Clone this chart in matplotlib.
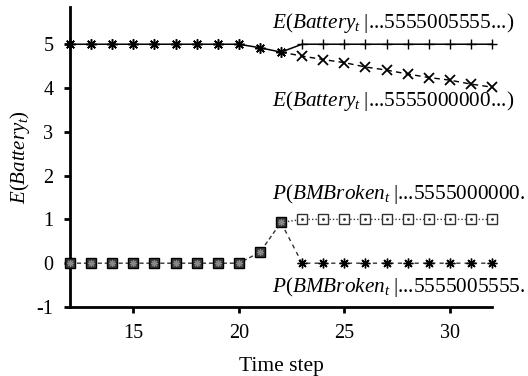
import matplotlib
matplotlib.use("Agg")
import matplotlib.pyplot as plt

plt.rcParams['font.family'] = ['Liberation Serif', 'DejaVu Serif']
plt.rcParams['mathtext.fontset'] = 'custom'
plt.rcParams['mathtext.it'] = 'Liberation Serif:italic'
plt.rcParams['mathtext.rm'] = 'Liberation Serif'

# ---- data ----
time_shared = [12, 13, 14, 15, 16, 17, 18, 19, 20, 21, 22]
time_after = [23, 24, 25, 26, 27, 28, 29, 30, 31, 32]
batt_shared = [5, 5, 5, 5, 5, 5, 5, 5, 5, 4.92, 4.82]
batt_5555005555 = [5, 5, 5, 5, 5, 5, 5, 5, 5, 5]
batt_5555000000 = [4.73, 4.65, 4.58, 4.48, 4.41, 4.32, 4.24, 4.18, 4.09, 4.02]
pbroken_shared = [0, 0, 0, 0, 0, 0, 0, 0, 0, 0.25, 0.93]
pbroken_5555000000 = [1, 1, 1, 1, 1, 1, 1, 1, 1, 1]
pbroken_5555005555 = [0, 0, 0, 0, 0, 0, 0, 0, 0, 0]
x_ticks = [15, 20, 25, 30]
y_ticks = [-1, 0, 1, 2, 3, 4, 5]

label_e1 = r'$E(Battery_t\;$|...5555005555...)'
label_e2 = r'$E(Battery_t\;$|...5555000000...)'
label_p1 = r'$P(BMBroken_t\;$|...5555000000.'
label_p2 = r'$P(BMBroken_t\;$|...5555005555.'

fig = plt.figure(figsize=(5.28, 3.76), dpi=100)
ax = fig.add_axes([70/528, (376-307)/376, (492-70)/528, (307-7)/376])

star = (8, 2, 0)
after_idx = list(range(1, 11))

# Battery shared part
ax.plot(time_shared, batt_shared, color='black', lw=1.1, ls='-',
        marker=star, ms=7.5, mew=1.1, mec='black', clip_on=False, zorder=3)
# continuations
ax.plot([time_shared[-1]] + time_after, [batt_shared[-1]] + batt_5555005555,
        color='black', lw=1.1, ls='-', marker='+', ms=7, mew=1.0,
        markevery=after_idx, clip_on=False, zorder=3)
ax.plot([time_shared[-1]] + time_after, [batt_shared[-1]] + batt_5555000000,
        color='black', lw=1.0, ls=(0, (4, 3)), marker='x', ms=6.5, mew=1.3,
        markevery=after_idx, clip_on=False, zorder=3)

# P(BMBroken) shared part
ax.plot(time_shared, pbroken_shared, color='#333333', lw=1.0, ls=(0, (3, 2)),
        marker='s', ms=7, mfc='#3a3a3a', mec='black', mew=1.0, clip_on=False, zorder=3)
ax.plot(time_shared, pbroken_shared, ls='none', marker=star, ms=5, mew=0.8,
        mec='#888888', clip_on=False, zorder=4)
ax.plot([time_shared[-1]] + time_after, [pbroken_shared[-1]] + pbroken_5555000000,
        color='#333333', lw=1.0, ls=(0, (1, 1.5)), marker='s', ms=7, mfc='white',
        mec='#333333', mew=1.0, markevery=after_idx, clip_on=False, zorder=3)
ax.plot(time_after, pbroken_5555000000, ls='none', marker='.', ms=2,
        color='#333333', clip_on=False, zorder=4)
ax.plot([time_shared[-1]] + time_after, [pbroken_shared[-1]] + pbroken_5555005555,
        color='#333333', lw=1.0, ls=(0, (3, 3)), marker=star, ms=7, mew=1.0,
        mec='black', markevery=after_idx, clip_on=False, zorder=3)

ax.set_xlim(12, 32)
ax.set_ylim(-1, 5.85)
ax.set_xticks(x_ticks)
ax.set_yticks(y_ticks)
ax.set_yticklabels([str(v) for v in y_ticks])
for s in ['top', 'right']:
    ax.spines[s].set_visible(False)
for s in ['left', 'bottom']:
    ax.spines[s].set_linewidth(2)
ax.tick_params(axis='both', direction='out', length=4, width=2, labelsize=14.5, pad=8)
ax.set_xlabel('Time step', fontsize=15.5, labelpad=10)
ax.set_ylabel(r'$E(Battery_t)$', fontsize=15, labelpad=3)

kw = dict(fontsize=15.3, ha='left', va='baseline', clip_on=False)
ax.text(21.57, 5.37, label_e1, **kw)
ax.text(21.57, 3.58, label_e2, **kw)
ax.text(21.57, 1.46, label_p1, **kw)
ax.text(21.57, -0.65, label_p2, **kw)

fig.savefig('out.png', dpi=100)
